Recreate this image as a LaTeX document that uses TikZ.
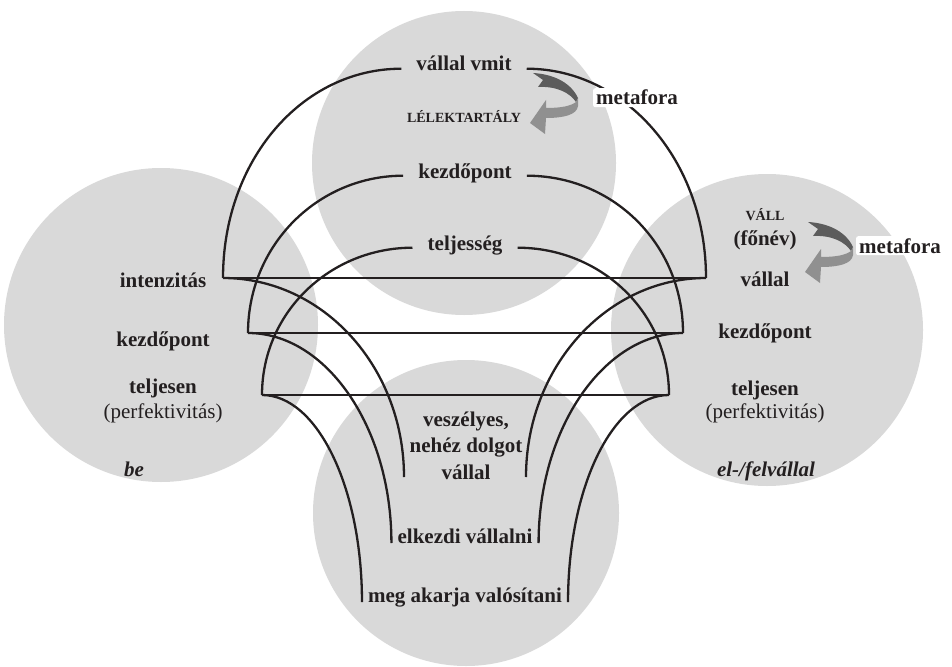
\documentclass[tikz,border=0pt]{standalone}
\usepackage{fontspec}
\setmainfont{Liberation Serif}
\definecolor{cgray}{HTML}{D9D9D9}
\definecolor{adark}{HTML}{5C5C5C}
\definecolor{alight}{HTML}{909090}
\definecolor{ink}{HTML}{231F20}
\tikzset{
 disc/.style={fill=cgray,draw=none},
 conn/.style={line width=2.3pt,draw=ink},
 lab/.style={font=\fontsize{21}{23.5}\selectfont\bfseries,text=ink,inner sep=0pt,anchor=base},
 toplab/.style={lab,inner xsep=15pt},
 botlab/.style={lab,inner xsep=6pt},
 reglab/.style={lab,font=\fontsize{21}{23.5}\selectfont},
 smlab/.style={lab,font=\fontsize{14}{16}\selectfont\bfseries},
 itlab/.style={lab,font=\fontsize{21}{23.5}\selectfont\bfseries\itshape},
 meta/.style={lab,fill=white,rounded corners=2pt,inner xsep=3pt,inner ysep=2pt},
 curvarr/.pic={
  \fill[adark] (0,0) .. controls (18,1) and (37,8) .. (45,25) -- (43,29)
     .. controls (37,20) and (24,13) .. (5,14) -- (10,7) -- cycle;
  \fill[alight] (45,25) -- (45,33) .. controls (44,42) and (30,45) .. (13,45)
     -- (12,61) -- (-3,50) -- (13,27) -- (13,35)
     .. controls (28,35) and (38,33) .. (43,29) -- cycle;
 }
}
\begin{document}
\begin{tikzpicture}[x=1pt,y=-1pt]
\useasboundingbox (0,0) rectangle (952,666);
% circles
\fill[disc] (464,163) circle[radius=152];
\fill[disc] (161,325) circle[radius=157];
\fill[disc] (767,330) circle[radius=156];
\fill[disc] (466,513) circle[radius=153];
% curved arrows
\pic at (533,73) {curvarr};
\pic at (808,222) {curvarr};
% top circle labels
\node[toplab] (vmit) at (464,71) {vállal vmit};
\node[smlab] (lelek) at (464,123) {LÉLEKTARTÁLY};
\node[toplab] (kezdT) at (465,178) {kezdőpont};
\node[toplab] (telj) at (465,250) {teljesség};
% left circle labels
\node[lab] (intL) at (163,287) {intenzitás};
\node[lab] (kezdL) at (163,346) {kezdőpont};
\node[lab] (teljL) at (163,393) {teljesen};
\node[reglab] (perfL) at (163,418) {(perfektivitás)};
\node[itlab] (be) at (134,476) {be};
% right circle labels
\node[smlab] (vall) at (765,220) {VÁLL};
\node[lab] (fonev) at (765,245) {(főnév)};
\node[lab] (vallal) at (765,286) {vállal};
\node[lab] (kezdR) at (765,338) {kezdőpont};
\node[lab] (teljR) at (765,395) {teljesen};
\node[reglab] (perfR) at (765,418) {(perfektivitás)};
\node[itlab] (elfel) at (766,476) {el-/felvállal};
% bottom circle labels
\node[lab,align=center] (vesz) at (466,479) {veszélyes,\\[3pt]nehéz dolgot\\[3pt]vállal};
\node[botlab] (elk) at (465,543) {elkezdi vállalni};
\node[botlab] (meg) at (465,602) {meg akarja valósítani};
% corner coordinates
\coordinate (Al) at (223,278);
\coordinate (Ar) at (706,278);
\coordinate (Bl) at (248,333);
\coordinate (Br) at (683,333);
\coordinate (Cl) at (262,395);
\coordinate (Cr) at (669,395);
\coordinate (vl) at (404,477);
\coordinate (vr) at (526,477);
% upper arches
\draw[conn] (vmit.mid west) .. controls +(-99,0) and +(0,-118) .. (Al);
\draw[conn] (vmit.mid east) .. controls +(98,0) and +(0,-118) .. (Ar);
\draw[conn] (kezdT.mid west) .. controls +(-85,0) and +(0,-88) .. (Bl);
\draw[conn] (kezdT.mid east) .. controls +(87,0) and +(0,-88) .. (Br);
\draw[conn] (telj.mid west) .. controls +(-82,0) and +(0,-83) .. (Cl);
\draw[conn] (telj.mid east) .. controls +(83,0) and +(0,-83) .. (Cr);
% horizontal bars
\draw[conn] (Al) -- (Ar);
\draw[conn] (Bl) -- (Br);
\draw[conn] (Cl) -- (Cr);
% lower curves
\draw[conn] (Al) .. controls +(100,0) and +(0,-110) .. (vl);
\draw[conn] (Ar) .. controls +(-99,0) and +(0,-110) .. (vr);
\draw[conn] (Bl) .. controls +(78,0) and +(0,-116) .. (elk.base west);
\draw[conn] (Br) .. controls +(-78,0) and +(0,-116) .. (elk.base east);
\draw[conn] (Cl) .. controls +(55,0) and +(0,-115) .. (meg.base west);
\draw[conn] (Cr) .. controls +(-56,0) and +(0,-115) .. (meg.base east);
% metafora labels
\node[meta] (met1) at (637,105) {metafora};
\node[meta] (met2) at (900,253) {metafora};
\end{tikzpicture}
\end{document}
